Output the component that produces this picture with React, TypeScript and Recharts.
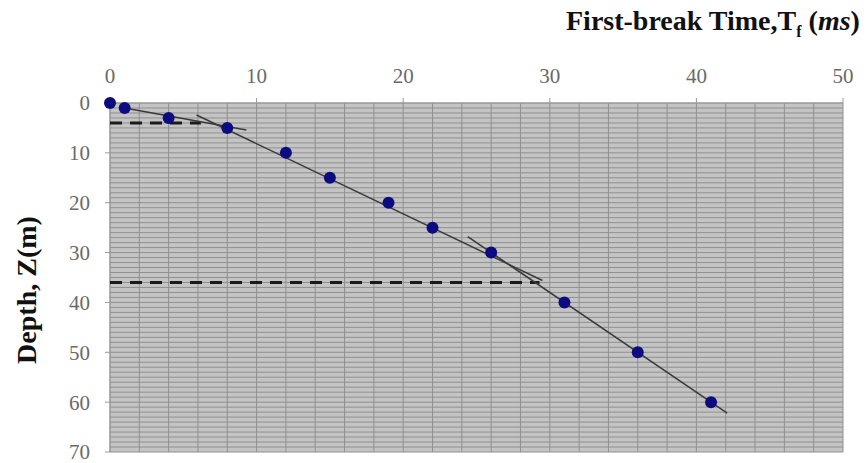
import React from "react";
import {
  ScatterChart,
  Scatter,
  XAxis,
  YAxis,
  CartesianGrid,
} from "recharts";

// first-break picks: time (ms) vs depth (m)
const times = [0, 1, 4, 8, 12, 15, 19, 22, 26, 31, 36, 41];
const depths = [0, 1, 3, 5, 10, 15, 20, 25, 30, 40, 50, 60];

// fitted velocity segments (ms, m)
const fit1 = [
  { t: 1, z: 1 },
  { t: 9.3, z: 5.4 },
];
const fit2 = [
  { t: 5.9, z: 2.4 },
  { t: 29.5, z: 35.6 },
];
const fit3 = [
  { t: 24.4, z: 26.8 },
  { t: 42.1, z: 62.2 },
];

// layer boundaries (dashed)
const layer1 = [
  { t: 0, z: 4 },
  { t: 6.2, z: 4 },
];
const layer2 = [
  { t: 0, z: 36 },
  { t: 29.3, z: 36 },
];

const xTicks = [0, 10, 20, 30, 40, 50];
const yTicks = [0, 10, 20, 30, 40, 50, 60, 70];
const xGridValues = [0, 2, 4, 6, 8, 10, 12, 14, 16, 18, 20, 22, 24, 26, 28, 30, 32, 34, 36, 38, 40, 42, 44, 46, 48, 50];
const yGridValues = [
  0, 1, 2, 3, 4, 5, 6, 7, 8, 9, 10, 11, 12, 13, 14, 15, 16, 17, 18, 19, 20, 21, 22, 23, 24, 25, 26, 27, 28, 29, 30, 31, 32, 33, 34,
  35, 36, 37, 38, 39, 40, 41, 42, 43, 44, 45, 46, 47, 48, 49, 50, 51, 52, 53, 54, 55, 56, 57, 58, 59, 60, 61, 62, 63, 64, 65, 66,
  67, 68, 69, 70,
];

const picks = times.map((t, i) => ({ t, z: depths[i] }));

const serif = "'Liberation Serif', 'Times New Roman', serif";
const tickStyle = { fontSize: 21, fill: "#6a6a6a", fontFamily: serif };

const noShape = () => <g />;
const dot = (p: any) => <circle cx={p.cx} cy={p.cy} r={6} fill="#0c0c80" />;

export default function App() {
  return (
    <div style={{ position: "absolute", left: 0, top: 0, width: 868, height: 463, background: "#fff" }}>
      <ScatterChart
        width={868}
        height={463}
        margin={{ top: 53, right: 25, bottom: 11, left: 40 }}
      >
        <CartesianGrid
          verticalValues={xGridValues}
          horizontalValues={yGridValues}
          fill="#c4c4c4"
          fillOpacity={1}
          stroke="#909090"
          strokeWidth={1}
        />
        <XAxis
          type="number"
          dataKey="t"
          orientation="top"
          domain={[0, 50]}
          ticks={xTicks}
          interval={0}
          height={50}
          tick={tickStyle}
          tickSize={5}
          tickMargin={15}
          stroke="#9a9a9a"
        />
        <YAxis
          type="number"
          dataKey="z"
          domain={[0, 70]}
          ticks={yTicks}
          interval={0}
          reversed
          width={70}
          tick={tickStyle}
          tickSize={5}
          tickMargin={15}
          stroke="#9a9a9a"
        />
        <Scatter data={layer1} line={{ stroke: "#1a1a1a", strokeWidth: 3, strokeDasharray: "12 8" }} shape={noShape} isAnimationActive={false} />
        <Scatter data={layer2} line={{ stroke: "#1a1a1a", strokeWidth: 3, strokeDasharray: "12 8" }} shape={noShape} isAnimationActive={false} />
        <Scatter data={fit1} line={{ stroke: "#3a3a3a", strokeWidth: 1.5 }} shape={noShape} isAnimationActive={false} />
        <Scatter data={fit2} line={{ stroke: "#3a3a3a", strokeWidth: 1.5 }} shape={noShape} isAnimationActive={false} />
        <Scatter data={fit3} line={{ stroke: "#3a3a3a", strokeWidth: 1.5 }} shape={noShape} isAnimationActive={false} />
        <Scatter data={picks} shape={dot} isAnimationActive={false} />
      </ScatterChart>
      <div
        style={{
          position: "absolute",
          left: 566,
          top: 5,
          fontFamily: serif,
          fontWeight: "bold",
          fontSize: 28,
          color: "#111",
          whiteSpace: "nowrap",
        }}
      >
        First-break Time,T<sub style={{ fontSize: 16 }}>f</sub> (<i>ms</i>)
      </div>
      <div
        style={{
          position: "absolute",
          left: 27,
          top: 290,
          transform: "translate(-50%, -50%) rotate(-90deg)",
          fontFamily: serif,
          fontWeight: "bold",
          fontSize: 28,
          color: "#111",
          whiteSpace: "nowrap",
        }}
      >
        Depth, Z(m)
      </div>
    </div>
  );
}
